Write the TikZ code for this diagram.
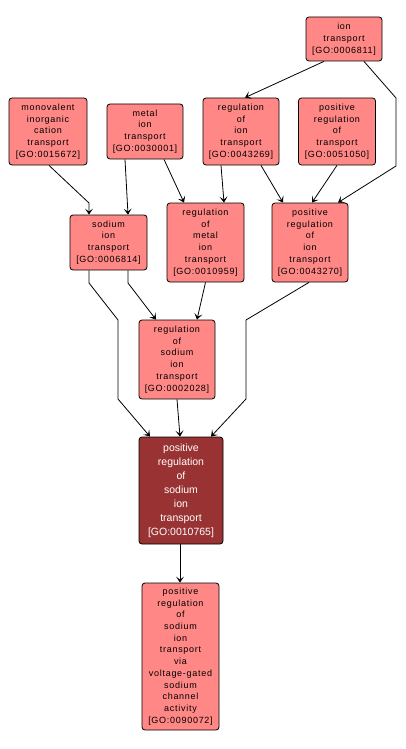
\documentclass[tikz,border=0pt]{standalone}
\usepackage{fontspec}
\setmainfont{Liberation Sans}
\newfontfamily\spacedfont[LetterSpace=8]{Liberation Sans}
\usetikzlibrary{arrows.meta}
\definecolor{goLight}{RGB}{255,136,134}
\definecolor{goDark}{RGB}{153,50,50}
\tikzset{
  term/.style={draw=black, line width=0.8pt, rounded corners=3pt, fill=goLight,
    align=center, inner sep=0pt, font=\spacedfont\fontsize{9}{11.7}\selectfont, text=black},
  hit/.style={term, fill=goDark, text=white, font=\rmfamily\fontsize{10.5}{14}\selectfont},
  edge/.style={draw=black, line width=0.8pt, -{Stealth[length=6pt,width=8pt,inset=3pt]}}
}
\begin{document}
\begin{tikzpicture}[x=1pt,y=-1pt]
\useasboundingbox (0,0) rectangle (405,749);
\node[term, minimum width=76pt, minimum height=44pt] (iont) at (344,39) {ion\\transport\\{[GO:0006811]}};
\node[term, minimum width=78pt, minimum height=67pt] (mono) at (48,131.5) {monovalent\\inorganic\\cation\\transport\\{[GO:0015672]}};
\node[term, minimum width=76pt, minimum height=55pt] (metal) at (145,131.5) {metal\\ion\\transport\\{[GO:0030001]}};
\node[term, minimum width=76pt, minimum height=67pt] (regi) at (241,131.5) {regulation\\of\\ion\\transport\\{[GO:0043269]}};
\node[term, minimum width=77pt, minimum height=67pt] (posregt) at (337,131.5) {positive\\regulation\\of\\transport\\{[GO:0051050]}};
\node[term, minimum width=77pt, minimum height=55pt] (sodium) at (108.5,242.5) {sodium\\ion\\transport\\{[GO:0006814]}};
\node[term, minimum width=77pt, minimum height=79pt] (regmetal) at (205.5,242.5) {regulation\\of\\metal\\ion\\transport\\{[GO:0010959]}};
\node[term, minimum width=76pt, minimum height=79pt] (posregi) at (310,242.5) {positive\\regulation\\of\\ion\\transport\\{[GO:0043270]}};
\node[term, minimum width=76pt, minimum height=79pt] (regsod) at (177,359.5) {regulation\\of\\sodium\\ion\\transport\\{[GO:0002028]}};
\node[hit, minimum width=84pt, minimum height=107pt] (main) at (181,490.5) {positive\\regulation\\of\\sodium\\ion\\transport\\{[GO:0010765]}};
\node[term, minimum width=77pt, minimum height=147pt] (bottom) at (180.5,656.5) {positive\\regulation\\of\\sodium\\ion\\transport\\via\\voltage-gated\\sodium\\channel\\activity\\{[GO:0090072]}};
\coordinate (c1) at (396,98);
\coordinate (c2) at (396,166);
\coordinate (c3) at (89,203);
\coordinate (c4) at (89,283);
\coordinate (c5) at (118,320);
\coordinate (c6) at (118,399);
\coordinate (c7) at (128,283);
\coordinate (c8) at (246,320);
\coordinate (c9) at (246,399);
\draw[edge] ([xshift=-20pt]iont.south) -- ([xshift=4pt]regi.north);
\draw[edge] ([xshift=20pt]iont.south) -- (c1) -- (c2) -- ([xshift=28pt]posregi.north);
\draw[edge] ([xshift=1pt]mono.south) -- (c3) -- ([xshift=-19.5pt]sodium.north);
\draw[edge] ([xshift=-20pt]metal.south) -- ([xshift=19.5pt]sodium.north);
\draw[edge] ([xshift=19pt]metal.south) -- ([xshift=-21.5pt]regmetal.north);
\draw[edge] ([xshift=-20pt]regi.south) -- ([xshift=18.5pt]regmetal.north);
\draw[edge] ([xshift=20pt]regi.south) -- ([xshift=-27pt]posregi.north);
\draw[edge] (posregt.south) -- ([xshift=2pt]posregi.north);
\draw[edge] ([xshift=-19.5pt]sodium.south) -- (c4) -- (c5) -- (c6) -- ([xshift=-31pt]main.north);
\draw[edge] ([xshift=19.5pt]sodium.south) -- (c7) -- ([xshift=-21pt]regsod.north);
\draw[edge] (regmetal.south) -- ([xshift=20pt]regsod.north);
\draw[edge] ([xshift=-1pt]posregi.south) -- (c8) -- (c9) -- ([xshift=30pt]main.north);
\draw[edge] (regsod.south) -- ([xshift=-1pt]main.north);
\draw[edge] ([xshift=-1pt]main.south) -- ([xshift=-0.5pt]bottom.north);
\end{tikzpicture}
\end{document}
